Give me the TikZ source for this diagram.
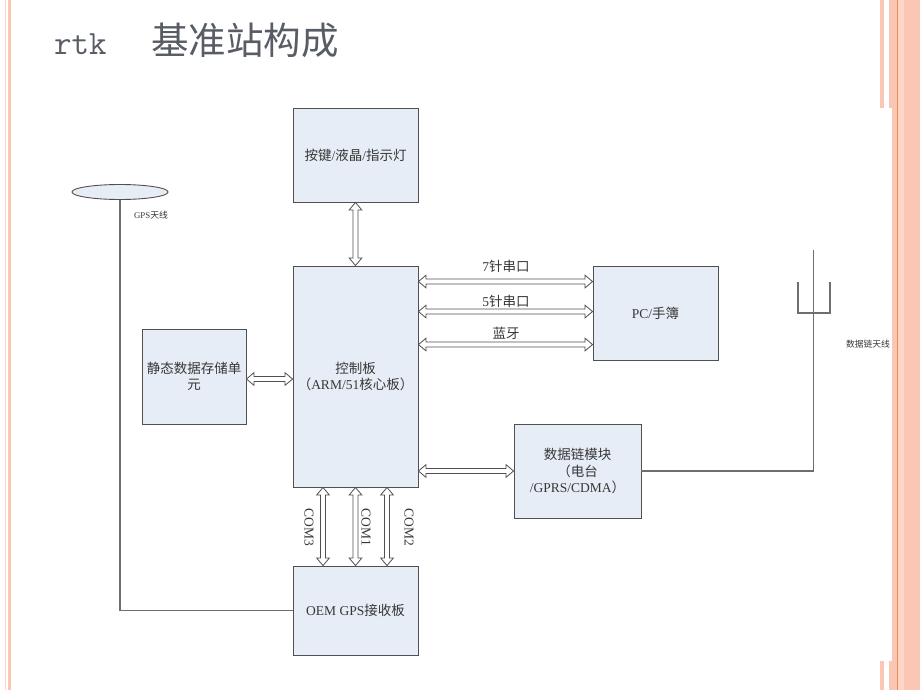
\documentclass[tikz,border=0pt]{standalone}
\usepackage{fontspec}
\setmainfont{Liberation Serif}
\newfontfamily\cjk{Noto Sans CJK SC}
\usetikzlibrary{calc,shapes.geometric}
\definecolor{stripe}{RGB}{251,199,180}
\definecolor{stripelight}{RGB}{253,214,198}
\definecolor{stripeline}{RGB}{232,140,90}
\definecolor{boxfill}{RGB}{231,237,246}
\definecolor{boxline}{RGB}{80,80,80}
\definecolor{txt}{RGB}{55,55,55}
\definecolor{titlec}{RGB}{88,92,100}
\definecolor{wirec}{RGB}{110,110,110}
\begin{document}
\begin{tikzpicture}[x=1pt,y=-1pt,
  blk/.style={draw=boxline, fill=boxfill, line width=0.9pt, inner sep=0pt, text=txt,
    font=\fontsize{13.5}{16.5}\selectfont, align=center},
  dbl/.style={draw=boxline, fill=white, line width=0.8pt, line join=miter,
    to path={let \p1=(\tikztostart), \p2=(\tikztotarget), \n1={atan2(\y2-\y1,\x2-\x1)} in
      (\p1) -- ($(\p1)+(\n1:7.5pt)+(\n1+90:6.3pt)$) -- ($(\p1)+(\n1:7.5pt)+(\n1+90:2.5pt)$)
      -- ($(\p2)+(\n1:-7.5pt)+(\n1+90:2.5pt)$) -- ($(\p2)+(\n1:-7.5pt)+(\n1+90:6.3pt)$)
      -- (\p2) -- ($(\p2)+(\n1:-7.5pt)+(\n1-90:6.3pt)$) -- ($(\p2)+(\n1:-7.5pt)+(\n1-90:2.5pt)$)
      -- ($(\p1)+(\n1:7.5pt)+(\n1-90:2.5pt)$) -- ($(\p1)+(\n1:7.5pt)+(\n1-90:6.3pt)$) -- cycle}},
  wire/.style={draw=wirec, line width=1.2pt},
  lbl/.style={text=txt, font=\fontsize{13.5}{15}\selectfont, inner sep=0pt},
  small/.style={text=txt, font=\fontsize{8.8}{10}\selectfont, inner sep=0pt}]
\useasboundingbox (0,0) rectangle (920,690);
\fill[white] (0,0) rectangle (920,690);
% decorative stripes
\fill[stripelight] (5,0) rectangle (6.2,690);
\fill[stripe] (7.5,0) rectangle (11,690);
\fill[stripe] (880,0) rectangle (884,108);
\fill[stripe] (889,0) rectangle (920,108);
\fill[stripe] (892,108) rectangle (920,661);
\fill[stripe] (880,661) rectangle (884,690);
\fill[stripe] (889,661) rectangle (920,690);
\fill[stripelight] (898,0) rectangle (904,690);
\fill[stripeline] (896.7,0) rectangle (897.8,690);
% title
\node[anchor=base west, inner sep=0pt, text=titlec, font=\ttfamily\fontsize{34}{34}\selectfont] (t1) at (54,55) {rtk};
\node[anchor=base west, inner sep=0pt, text=titlec, font=\cjk\fontsize{37.5}{37.5}\selectfont] (t2) at (151,55) {基准站构成};
% boxes
\node[blk, minimum width=125, minimum height=94] (keys) at (355.5,155) {{\cjk 按键}/{\cjk 液晶}/{\cjk 指示灯}};
\node[blk, minimum width=125, minimum height=221] (ctrl) at (355.5,376.5) {{\cjk 控制板}\\{\cjk （}ARM/51{\cjk 核心板）}};
\node[blk, minimum width=125, minimum height=94] (pc) at (655.5,313) {PC/{\cjk 手簿}};
\node[blk, minimum width=104, minimum height=95] (store) at (194,376.5) {{\cjk 静态数据存储单}\\{\cjk 元}};
\node[blk, minimum width=127, minimum height=94] (dl) at (577.5,471) {{\cjk 数据链模块}\\{\cjk （电台}\\/GPRS/CDMA{\cjk ）}};
\node[blk, minimum width=125, minimum height=89] (oem) at (355.5,610.5) {OEM GPS{\cjk 接收板}};
% arrow end points
\coordinate (a7s) at ($(ctrl.north east)+(0,16)$);
\coordinate (a7t) at ($(pc.north west)+(0,16)$);
\coordinate (a5s) at ($(ctrl.north east)+(0,46)$);
\coordinate (a5t) at ($(pc.north west)+(0,46)$);
\coordinate (abs) at ($(ctrl.north east)+(0,79)$);
\coordinate (abt) at ($(pc.north west)+(0,79)$);
\coordinate (ast) at ($(store.east -| ctrl.west)+(0,2.5)$);
\coordinate (ass) at ($(store.east)+(0,2.5)$);
\coordinate (ads) at (dl.west -| ctrl.east);
\coordinate (c3s) at ($(ctrl.south)+(-32.5,0)$);
\coordinate (c3t) at ($(oem.north)+(-32.5,0)$);
\coordinate (c2s) at ($(ctrl.south)+(31.5,0)$);
\coordinate (c2t) at ($(oem.north)+(31.5,0)$);
% double arrows
\draw[dbl] (keys.south) to (ctrl.north);
\draw[dbl] (a7s) to (a7t);
\draw[dbl] (a5s) to (a5t);
\draw[dbl] (abs) to (abt);
\draw[dbl] (ass) to (ast);
\draw[dbl] (ads) to (dl.west);
\draw[dbl] (c3s) to (c3t);
\draw[dbl] (ctrl.south) to (oem.north);
\draw[dbl] (c2s) to (c2t);
% arrow labels
\node[lbl] (l7) at (506,266) {7{\cjk 针串口}};
\node[lbl] (l5) at (506,301) {5{\cjk 针串口}};
\node[lbl] (lb) at (506,333) {\cjk 蓝牙};
\node[lbl, rotate=-90] (c3) at (309,527) {COM3};
\node[lbl, rotate=-90] (c1) at (366,527) {COM1};
\node[lbl, rotate=-90] (c2) at (409,527) {COM2};
% GPS antenna
\node[draw=boxline, fill=boxfill, ellipse, line width=0.9pt, minimum width=96, minimum height=15, inner sep=0pt] (gpsant) at (120,192) {};
\draw[wire] (gpsant.south) |- (oem.west);
\node[small] (gpslbl) at (151,215) {GPS{\cjk 天线}};
% data link antenna
\coordinate (anttop) at (813.5,250);
\coordinate (uleft) at (798,282);
\coordinate (uright) at (830,282);
\draw[wire] (dl.east) -| (anttop);
\draw[wire] (uleft) -- (uleft |- 0,313) -- (uright |- 0,313) -- (uright);
\node[small] (antlbl) at (868,344) {\cjk 数据链天线};
\end{tikzpicture}
\end{document}
